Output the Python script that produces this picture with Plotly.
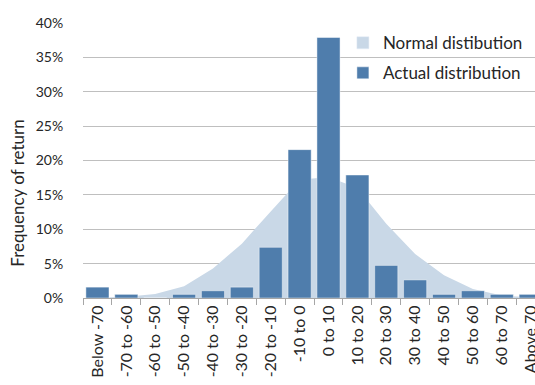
import plotly.graph_objects as go

categories = ["Below -70", "-70 to -60", "-60 to -50", "-50 to -40", "-40 to -30",
              "-30 to -20", "-20 to -10", "-10 to 0", "0 to 10", "10 to 20",
              "20 to 30", "30 to 40", "40 to 50", "50 to 60", "60 to 70", "Above 70"]
actual = [1.58, 0.53, 0.0, 0.53, 1.05, 1.58, 7.37, 21.58, 37.89, 17.89,
          4.74, 2.63, 0.53, 1.05, 0.53, 0.53]
normal = [0.05, 0.2, 0.6, 1.7, 4.3, 7.9, 12.6, 17.2, 17.6, 16.0,
          10.8, 6.4, 3.3, 1.3, 0.35, 0.1]
y_ticks = [0, 5, 10, 15, 20, 25, 30, 35, 40]
y_tick_labels = ["0%", "5%", "10%", "15%", "20%", "25%", "30%", "35%", "40%"]

NORMAL_COLOR = "#c9d8e7"
ACTUAL_COLOR = "#4f7dac"
GRID = "#bfbfbf"
FONT = "Lato, 'Noto Sans', sans-serif"
TEXT = "#262626"

fig = go.Figure()
# area on base axes (drawn underneath gridlines and bars)
fig.add_trace(go.Scatter(
    x=categories, y=normal, mode="lines", line=dict(width=0, color=NORMAL_COLOR),
    fill="tozeroy", fillcolor=NORMAL_COLOR, showlegend=False, hoverinfo="skip",
    xaxis="x", yaxis="y"))
# legend entry for the area
fig.add_trace(go.Bar(
    x=[categories[0]], y=[None], name="Normal distibution",
    marker=dict(color=NORMAL_COLOR), legendgroup="n", showlegend=True,
    xaxis="x2", yaxis="y2"))
# bars on overlay axes (drawn on top)
fig.add_trace(go.Bar(
    x=categories, y=actual, name="Actual distribution", width=0.8,
    marker=dict(color=ACTUAL_COLOR, line=dict(color="rgba(255,255,255,0.45)", width=1)),
    legendgroup="a", xaxis="x2", yaxis="y2"))

xr = [-0.5, 15.15]
yr = [0, 40]

fig.update_layout(
    width=535, height=385,
    margin=dict(l=82.7, r=0, t=22.7, b=87.3, autoexpand=False),
    paper_bgcolor="white", plot_bgcolor="white",
    barmode="overlay",
    font=dict(family=FONT, size=14, color=TEXT),
    legend=dict(x=0.575, y=0.992, xanchor="left", yanchor="top",
                bgcolor="rgba(255,255,255,0)", font=dict(size=17, color=TEXT),
                traceorder="grouped", tracegroupgap=5, itemwidth=30),
    xaxis=dict(type="category", range=xr, tickangle=-90,
               showline=True, linecolor="#a6a6a6", linewidth=1,
               ticks="outside", ticklen=6, tickcolor="#a6a6a6", tickson="boundaries",
               showgrid=False, automargin=False, ticklabeloverflow="allow",
               tickfont=dict(size=16, color=TEXT)),
    yaxis=dict(range=yr, tickvals=y_ticks, ticktext=y_tick_labels, showgrid=False,
               zeroline=False, showline=False,
               ticks="outside", ticklen=16, tickcolor="rgba(0,0,0,0)",
               automargin=False, tickfont=dict(size=14, color=TEXT)),
    xaxis2=dict(type="category", range=xr, overlaying="x", visible=False,
                showgrid=False),
    yaxis2=dict(range=yr, tickvals=y_ticks, overlaying="y", showgrid=True,
                gridcolor=GRID, gridwidth=1, zeroline=False, showline=False,
                showticklabels=False, ticks=""),
    annotations=[dict(text="Frequency of return", textangle=-90,
                      xref="paper", yref="paper", x=-0.144, y=0.3825,
                      xanchor="center", yanchor="middle", showarrow=False,
                      font=dict(size=17, color=TEXT))],
)

fig.write_html("out.html",
               config={"displayModeBar": False},
               post_script="document.body.style.margin='0';"
                           "document.body.style.overflow='hidden';")
